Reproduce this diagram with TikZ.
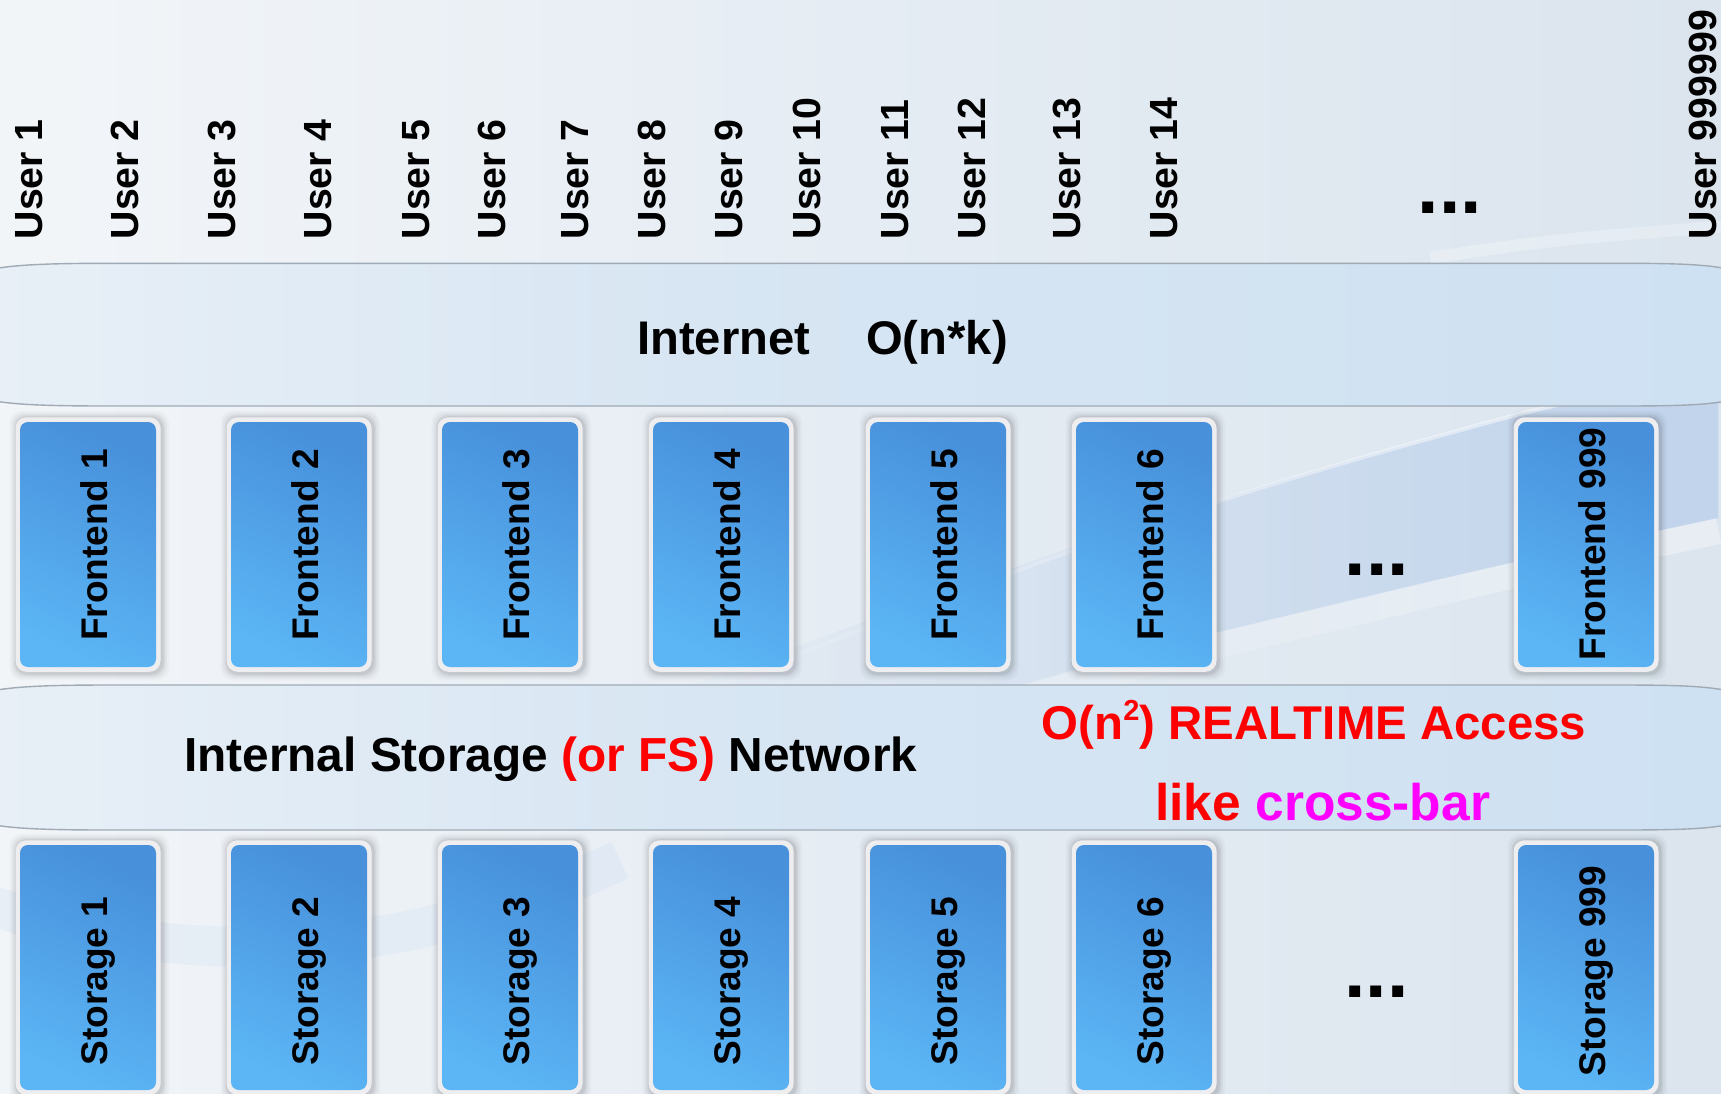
\documentclass[tikz,border=0pt]{standalone}
\usepackage{fontspec}
\setmainfont{Liberation Sans}
\usetikzlibrary{calc,patterns,fadings}
\definecolor{bgA}{RGB}{246,248,250}
\definecolor{bgM}{RGB}{229,236,243}
\definecolor{bgR}{RGB}{210,222,233}
\definecolor{bandL}{RGB}{251,252,253}
\definecolor{bandA}{RGB}{238,243,248}
\definecolor{bandM}{RGB}{216,230,243}
\definecolor{bandR}{RGB}{197,220,241}
\definecolor{bandedge}{RGB}{160,170,180}
\definecolor{framecol}{RGB}{238,238,240}
\definecolor{boxtop}{RGB}{68,142,218}
\definecolor{boxbot}{RGB}{88,180,245}
\definecolor{swblue}{RGB}{188,209,236}
\definecolor{swpale}{RGB}{212,226,243}
\definecolor{mag}{RGB}{255,0,255}
\definecolor{pred}{RGB}{255,0,0}
\pgfdeclarehorizontalshading{bgshade}{100bp}{color(0bp)=(white); color(18bp)=(bgA); color(50bp)=(bgM); color(100bp)=(bgR)}
\pgfdeclarehorizontalshading{bandshade}{100bp}{color(0bp)=(bandL); color(18bp)=(bandA); color(45bp)=(bandM); color(100bp)=(bandR)}
\newcommand\mkband[2]{%
  \path[draw=bandedge, line width=1.4pt, shading=bandshade]
    (-20,#1+8.7) .. controls (5,#1+1.7) and (40,#1) .. (110,#1) -- (1620,#1)
    .. controls (1690,#1) and (1715,#1+1.7) .. (1740,#1+8.7) -- (1740,#2-8)
    .. controls (1715,#2-1.5) and (1690,#2) .. (1620,#2) -- (110,#2)
    .. controls (40,#2) and (5,#2-1.5) .. (-20,#2-8) -- cycle;}
\newcommand\mkunit[5]{%
  \foreach \sh/\op in {7/0.025,5/0.035,3/0.05,1.5/0.06}{
    \fill[black, opacity=\op, rounded corners=12pt]
      (#2-72.5-\sh+1,#3-127.25-\sh+0.5) rectangle (#2+72.5+\sh+1.5,#3+127.25+\sh+1.5);}
  \node[framebox] (#1f) at (#2,#3) {};
  \node[bluebox] (#1) at (#2,#3) {};
  \node[blbl] (#1t) at (#2+19,#5) {#4};}
\tikzset{
  framebox/.style={fill=framecol, rounded corners=11pt, minimum width=145pt, minimum height=254.5pt, inner sep=0pt},
  bluebox/.style={rounded corners=8pt, minimum width=136pt, minimum height=245pt, inner sep=0pt,
    top color=boxtop, bottom color=boxbot, shading angle=-25,
    postaction={pattern=north west lines, pattern color=white, opacity=0.07}},
  usr/.style={rotate=90, anchor=base west, inner sep=0pt, font=\bfseries\fontsize{39.3pt}{40pt}\selectfont},
  blbl/.style={rotate=90, anchor=base, inner sep=0pt, font=\bfseries\fontsize{37.1pt}{38pt}\selectfont},
  big/.style={anchor=base west, inner sep=0pt},
  dotsty/.style={anchor=base west, inner sep=0pt, font=\bfseries\fontsize{77pt}{78pt}\selectfont},
}
\begin{document}
\begin{tikzpicture}[x=1pt,y=-1pt]
\useasboundingbox (0,0) rectangle (1721,1093);
\clip (0,0) rectangle (1721,1093);
% background
\shade[shading=bgshade] (0,0) rectangle (1721,1093);
% decorative swooshes
\fill[swblue, path fading=west, fill opacity=0.85]
  (650,700) .. controls (900,610) and (1100,530) .. (1413,443)
  .. controls (1550,405) .. (1721,370) -- (1721,518)
  .. controls (1500,565) .. (1217,633) .. controls (1000,690) .. (800,760) -- cycle;
\draw[white, line width=4pt, opacity=0.6, path fading=west]
  (650,712) .. controls (900,615) and (1100,530) .. (1413,443) .. controls (1550,405) .. (1721,370);
\draw[white, line width=26pt, opacity=0.35, path fading=west]
  (800,772) .. controls (1000,702) .. (1217,646) .. controls (1500,578) .. (1721,531);
\draw[swpale, line width=40pt, opacity=0.35]
  (-10,905) .. controls (200,975) and (420,955) .. (620,860);
\draw[white, line width=12pt, opacity=0.25] (1430,258) .. controls (1550,240) .. (1730,226);
% bands
\mkband{263.3}{406}
\mkband{685}{830}
% users
\foreach \ux/\un in {42.5/1,138/2,235/3,331/4,429/5,505/6,588/7,665/8,742/9,820/10,908/11,985/12,1080/13,1177/14}{
  \node[usr] (u\un) at (\ux,239.5) {User \un};}
\node[usr] (ulast) at (1716,239.5) {User 999999};
\node[dotsty] (udots) at (1417.5,213) {...};
% frontends
\mkunit{fe1}{88}{544.5}{Frontend 1}{545}
\mkunit{fe2}{299}{544.5}{Frontend 2}{545}
\mkunit{fe3}{510}{544.5}{Frontend 3}{545}
\mkunit{fe4}{721}{544.5}{Frontend 4}{545}
\mkunit{fe5}{938}{544.5}{Frontend 5}{545}
\mkunit{fe6}{1144}{544.5}{Frontend 6}{545}
\mkunit{fe999}{1586}{544.5}{Frontend 999}{544}
\node[dotsty] (fdots) at (1344.5,575) {...};
% storages
\mkunit{st1}{88}{967.5}{Storage 1}{981}
\mkunit{st2}{299}{967.5}{Storage 2}{981}
\mkunit{st3}{510}{967.5}{Storage 3}{981}
\mkunit{st4}{721}{967.5}{Storage 4}{981}
\mkunit{st5}{938}{967.5}{Storage 5}{981}
\mkunit{st6}{1144}{967.5}{Storage 6}{981}
\mkunit{st999}{1586}{967.5}{Storage 999}{971}
\node[dotsty] (sdots) at (1344,997.5) {...};
% band texts
\node[big, font=\bfseries\fontsize{47.2pt}{48pt}\selectfont] (inet) at (637,354) {Internet\hspace{56pt}O(n*k)};
\node[big, font=\bfseries\fontsize{47.8pt}{48pt}\selectfont] (isn) at (184,771.5) {Internal Storage \textcolor{pred}{(or FS)} Network};
\node[big, text=pred, font=\bfseries\fontsize{47.4pt}{48pt}\selectfont] (rt) at (1041.5,739) {O(n\raisebox{19pt}{\fontsize{29pt}{30pt}\selectfont 2}) REALTIME Access};
\node[big, text=pred, font=\bfseries\fontsize{51.5pt}{52pt}\selectfont] (cb) at (1155,820) {like \textcolor{mag}{cross-bar}};
\end{tikzpicture}
\end{document}
